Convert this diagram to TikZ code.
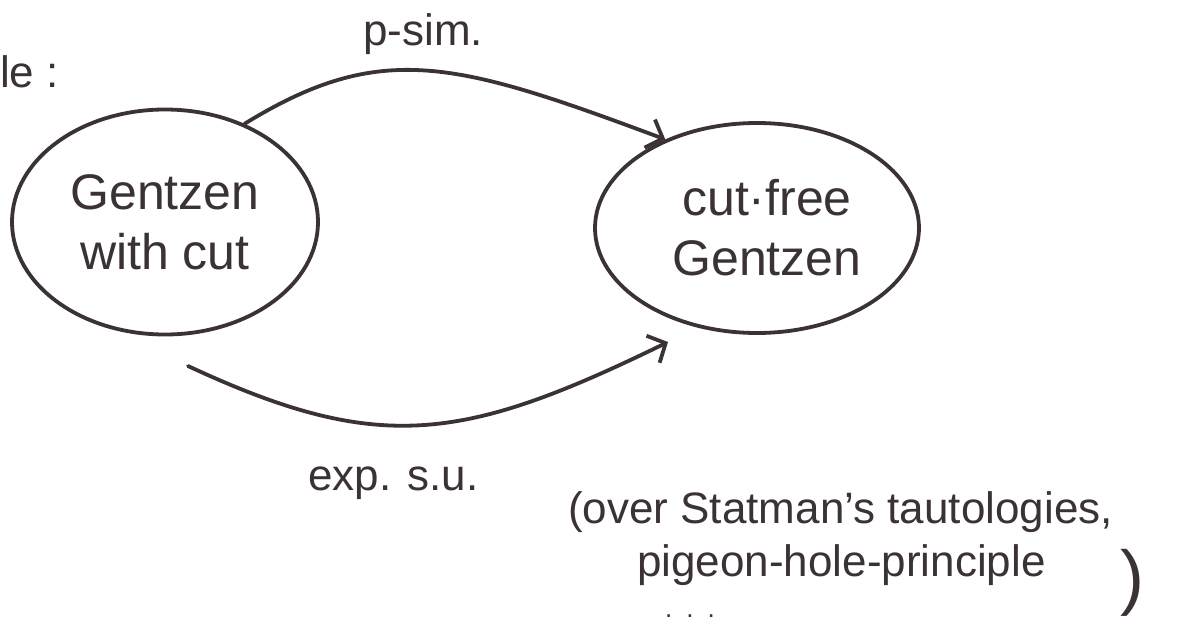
\documentclass[tikz,border=0pt]{standalone}
\usepackage{fontspec}
\setmainfont{Liberation Sans}
\usetikzlibrary{arrows.meta,shapes.geometric}
\definecolor{ink}{HTML}{3A3236}
\begin{document}
\begin{tikzpicture}[x=1pt,y=-1pt,
  setnode/.style={ellipse, draw=ink, line width=3.8pt, align=center, text=ink,
    font=\fontsize{50}{60}\selectfont, inner sep=0pt},
  conn/.style={draw=ink, line width=3.8pt, line cap=round,
    -{Straight Barb[length=14pt,width=30pt,line width=3.8pt]}},
  lbl/.style={text=ink, font=\fontsize{44}{50}\selectfont, inner sep=0pt, anchor=base west}]
\useasboundingbox[fill=white] (0,0) rectangle (1179,624);

\node[setnode, minimum width=306pt, minimum height=225pt] (L) at (165,222) {Gentzen\\with cut};
\node[setnode, minimum width=324pt, minimum height=210pt] (R) at (757,228) {\hspace*{20pt}cut·free\\\hspace*{20pt}Gentzen};

\coordinate (b1) at (188,366);
\coordinate (b2) at (668,342);

\draw[conn] (L.51) .. controls (381,40) and (455,61) .. (R.136);
\draw[conn] (b1) .. controls (379,455) and (463,442) .. (b2);

\node[lbl] (le) at (0,87) {le :};
\node[lbl] (psim) at (363,45) {p-sim.};
\node[lbl] (exp) at (308,490) {exp. s.u.};
\node[lbl] (n1) at (568,523) {(over Statman's tautologies,};
\node[lbl] (n2) at (637,576) {pigeon-hole-principle};
\node[text=ink, font=\fontsize{72}{80}\selectfont, inner sep=0pt] (rp) at (1132,583) {)};
\node[lbl, font=\fontsize{26}{30}\selectfont] (dots) at (665,617) {.\hspace{14pt}.\hspace{14pt}.};
\end{tikzpicture}
\end{document}
